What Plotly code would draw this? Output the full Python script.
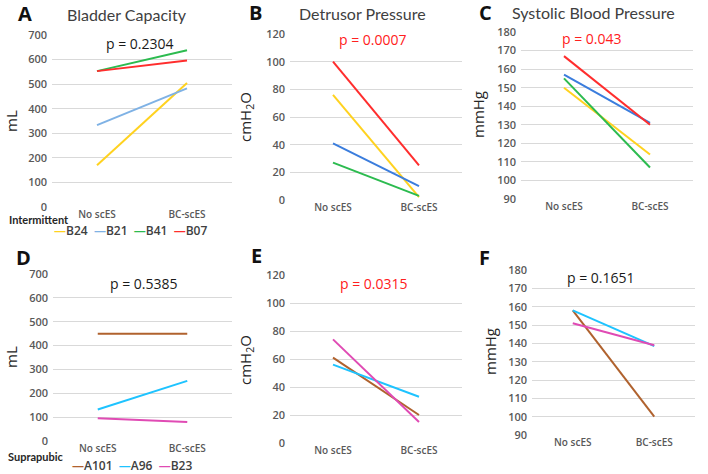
import plotly.graph_objects as go

W, H = 708, 474

categories = ["No scES", "BC-scES"]

# Intermittent group (panels A-C)
int_names = ["B24", "B21", "B41", "B07"]
int_colors_a = ["#FFD21F", "#7FB2E5", "#2CBB4F", "#FF2D2D"]
int_colors_bc = ["#FFD21F", "#3B7DDD", "#2CBB4F", "#FF2D2D"]
bladder_int = [[170, 505], [333, 483], [553, 638], [553, 596]]
detrusor_int = [[76, 2], [41, 10], [27, 3], [100, 25]]
sbp_int = [[150, 114], [157, 131], [155, 107], [167, 130]]

# Suprapubic group (panels D-F)
sup_names = ["A101", "A96", "B23"]
sup_colors = ["#B0622E", "#1EC3FF", "#E04BB4"]
bladder_sup = [[450, 450], [132, 252], [95, 80]]
detrusor_sup = [[61, 20], [56, 33], [74, 15]]
sbp_sup = [[158, 100], [158, 138.5], [151, 139]]

p_values = ["p = 0.2304", "p = 0.0007", "p = 0.043", "p = 0.5385", "p = 0.0315", "p = 0.1651"]
p_colors = ["#1a1a1a", "#FF2020", "#FF2020", "#1a1a1a", "#FF2020", "#1a1a1a"]
panel_letters = ["A", "B", "C", "D", "E", "F"]
panel_titles = ["Bladder Capacity", "Detrusor Pressure", "Systolic Blood Pressure"]
y_titles = ["mL", "cmH<sub>2</sub>O", "mmHg", "mL", "cmH<sub>2</sub>O", "mmHg"]
y_ranges = [[0, 700], [0, 120], [90, 180], [0, 700], [0, 120], [90, 180]]
y_dticks = [100, 20, 10, 100, 20, 10]

# panel pixel boxes: (left, right, top, bottom)
boxes = [
    (52, 232, 35, 207),
    (290, 462, 34, 200),
    (521, 693, 32, 199),
    (53, 232, 274, 441),
    (290, 462, 275, 443),
    (532, 695, 270, 435),
]

def px(x):
    return x / W

def py(y):
    return 1 - y / H

fig = go.Figure()

panels = [
    (bladder_int, int_names, int_colors_a),
    (detrusor_int, int_names, int_colors_bc),
    (sbp_int, int_names, int_colors_bc),
    (bladder_sup, sup_names, sup_colors),
    (detrusor_sup, sup_names, sup_colors),
    (sbp_sup, sup_names, sup_colors),
]

FONT = "Lato"
TICKFONT = dict(family="Open Sans", size=11, color="#595959", weight=600)

for i, (data, names, colors) in enumerate(panels):
    n = i + 1
    xa = "x" if n == 1 else f"x{n}"
    ya = "y" if n == 1 else f"y{n}"
    for vals, name, col in zip(data, names, colors):
        fig.add_trace(go.Scatter(
            x=categories, y=vals, mode="lines", name=name,
            line=dict(color=col, width=2), showlegend=False,
            xaxis=xa, yaxis=ya,
        ))
    l, r, t, b = boxes[i]
    xkey = "xaxis" if n == 1 else f"xaxis{n}"
    ykey = "yaxis" if n == 1 else f"yaxis{n}"
    fig.layout[xkey] = dict(
        domain=[px(l), px(r)], anchor=ya, type="category", automargin=False,
        range=[-0.5, 1.5], showgrid=False, zeroline=False, showline=False,
        ticks="", tickfont=dict(family="Open Sans", size=10, color="#595959", weight=600),
        fixedrange=True,
    )
    fig.layout[ykey] = dict(
        domain=[py(b), py(t)], anchor=xa, range=y_ranges[i], automargin=False,
        dtick=y_dticks[i], tick0=y_ranges[i][0],
        showgrid=True, gridcolor="#D9D9D9", gridwidth=1,
        zeroline=False, showline=False, ticks="",
        tickfont=TICKFONT, ticklabelstandoff=4, fixedrange=True,
    )

annotations = []

def ann(text, x, y, font, xanchor="center", angle=0):
    annotations.append(dict(text=text, x=px(x), y=py(y), xref="paper", yref="paper",
                            xanchor=xanchor, yanchor="middle", textangle=angle,
                            showarrow=False, font=font))

# panel letters
letter_pos = [(25, 13), (255, 12), (486, 12), (23, 257), (256, 255), (484, 257)]
for letter, (x, y) in zip(panel_letters, letter_pos):
    ann(f"<b>{letter}</b>", x, y, dict(family="Open Sans", size=20, color="#111111"))
# panel titles
title_pos = [(127, 15), (362, 13), (593, 12)]
for t, (x, y) in zip(panel_titles, title_pos):
    ann(t, x, y, dict(family=FONT, size=16, color="#404040"))
# p-values
p_pos = [(140, 43), (373, 39), (592, 38), (144, 283), (374, 283), (601, 277)]
for t, c, (x, y) in zip(p_values, p_colors, p_pos):
    ann(t, x, y, dict(family="Open Sans", size=14, color=c))
# y axis titles
yt_pos = [(11, 121), (246, 117), (478, 115), (11, 357), (246, 360), (490, 352)]
for t, (x, y) in zip(y_titles, yt_pos):
    ann(t, x, y, dict(family="Open Sans", size=15, color="#262626"), angle=-90)
# group labels
ann("<b>Intermittent</b>", 7, 219, dict(family="Lato", size=11, color="#262626"), xanchor="left")
ann("<b>Suprapubic</b>", 6, 456, dict(family="Lato", size=11, color="#262626"), xanchor="left")

def legend_text(names, colors):
    parts = [f"<span style='color:{c}'><b>\u2014</b></span>{n}" for n, c in zip(names, colors)]
    return "  ".join(parts)

ann(legend_text(int_names, int_colors_a), 52, 230,
    dict(family="Open Sans", size=12, color="#404040", weight=600), xanchor="left")
ann(legend_text(sup_names, sup_colors), 70, 465,
    dict(family="Open Sans", size=12, color="#404040", weight=600), xanchor="left")

fig.update_layout(
    width=W, height=H, margin=dict(l=0, r=0, t=0, b=0),
    paper_bgcolor="white", plot_bgcolor="white",
    showlegend=False, annotations=annotations,
)

fig.write_html("out.html", config={"displayModeBar": False},
               post_script="document.body.style.margin='0';document.body.style.overflow='hidden';")
